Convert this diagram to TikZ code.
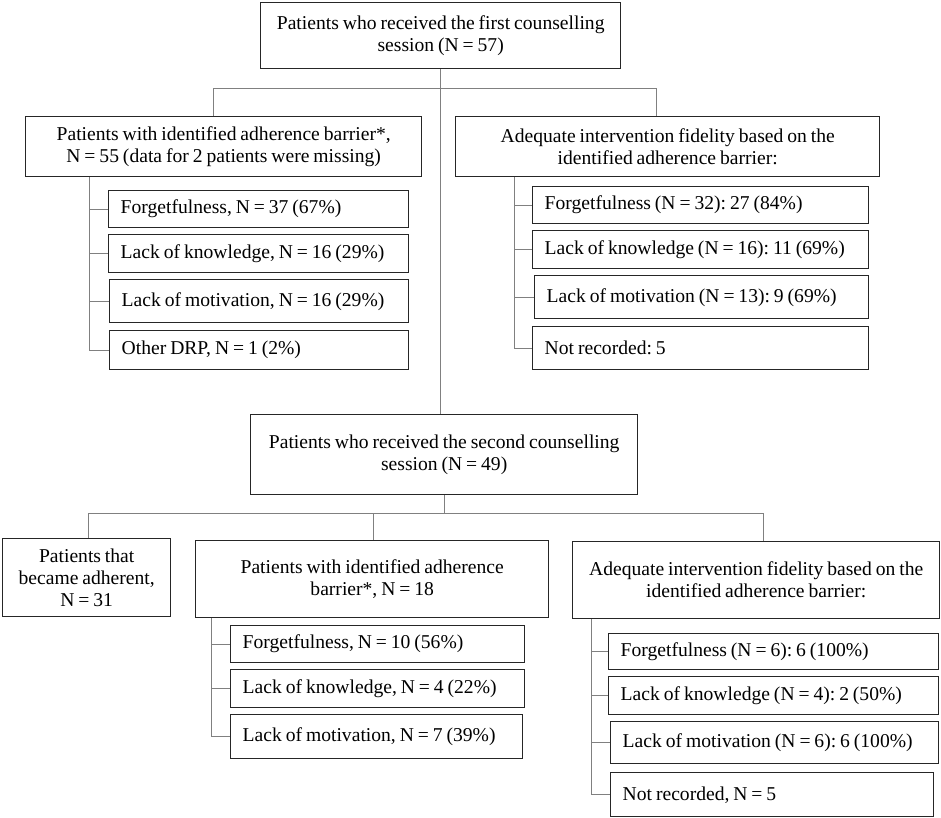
\documentclass[tikz,border=0pt]{standalone}
\usepackage{fontspec}
\setmainfont{Liberation Serif}[WordSpace=0.8]
\usepackage{tikz}
\usetikzlibrary{positioning}
\newcommand{\boxfont}{\fontsize{19.6}{22}\selectfont}
\frenchspacing

\begin{document}
\begin{tikzpicture}[x=1pt, y=-1pt,
	box/.style={draw=black!85, line width=1.4pt, rectangle, inner sep=0pt,
		anchor=north west, align=center, font=\boxfont},
	item/.style={box, align=flush left, inner xsep=12pt},
	conn/.style={draw=black!50, line width=1pt}]
	
	\useasboundingbox (0,0) rectangle (941,818);
	
	% Erste Sitzung
	\node[box, minimum width=360pt, minimum height=66pt] (first) at (260,2)
		{Patients who received the first counselling\\ session (N = 57)};
	\node[box, minimum width=396pt, minimum height=60pt] (bar1) at (25,116)
		{Patients with identified adherence barrier*,\\ N = 55 (data for 2 patients were missing)};
	\node[box, minimum width=424pt, minimum height=60pt] (fid1) at (455,116)
		{Adequate intervention fidelity based on the\\ identified adherence barrier:};
	
	% Barrieren 1
	\node[item, text width=276pt, minimum height=37pt] (fa1) at (108,190) {Forgetfulness, N = 37 (67\%)};
	\node[item, text width=276pt, minimum height=38pt] (ka1) at (108,234) {Lack of knowledge, N = 16 (29\%)};
	\node[item, text width=275pt, minimum height=43pt] (ma1) at (109,279) {Lack of motivation, N = 16 (29\%)};
	\node[item, text width=275pt, minimum height=39pt] (oa1) at (109,330) {Other DRP, N = 1 (2\%)};
	
	% Fidelity 1
	\node[item, text width=312pt, minimum height=37pt] (fb1) at (532,186) {Forgetfulness (N = 32): 27 (84\%)};
	\node[item, text width=312pt, minimum height=38pt] (kb1) at (532,230) {Lack of knowledge (N = 16): 11 (69\%)};
	\node[item, text width=310pt, minimum height=43pt] (mb1) at (534,275) {Lack of motivation (N = 13): 9 (69\%)};
	\node[item, text width=312pt, minimum height=43pt] (nb1) at (532,326) {Not recorded: 5};
	
	% Zweite Sitzung
	\node[box, minimum width=387pt, minimum height=80pt] (second) at (250,414)
		{Patients who received the second counselling\\ session (N = 49)};
	\node[box, minimum width=168pt, minimum height=78pt] (adh) at (2,538)
		{Patients that\\ became adherent,\\ N = 31};
	\node[box, minimum width=353pt, minimum height=77pt] (bar2) at (195,540)
		{Patients with identified adherence\\ barrier*, N = 18};
	\node[box, minimum width=367pt, minimum height=77pt] (fid2) at (572,541)
		{Adequate intervention fidelity based on the\\ identified adherence barrier:};
	
	% Barrieren 2
	\node[item, text width=270pt, minimum height=37pt] (fa2) at (230,625) {Forgetfulness, N = 10 (56\%)};
	\node[item, text width=270pt, minimum height=38pt] (ka2) at (230,669) {Lack of knowledge, N = 4 (22\%)};
	\node[item, text width=268pt, minimum height=44pt] (ma2) at (230,714) {Lack of motivation, N = 7 (39\%)};
	
	% Fidelity 2
	\node[item, text width=306pt, minimum height=36pt] (fb2) at (608,633) {Forgetfulness (N = 6): 6 (100\%)};
	\node[item, text width=306pt, minimum height=38pt] (kb2) at (608,676) {Lack of knowledge (N = 4): 2 (50\%)};
	\node[item, text width=304pt, minimum height=42pt] (mb2) at (610,721) {Lack of motivation (N = 6): 6 (100\%)};
	\node[item, text width=299pt, minimum height=44pt] (nb2) at (610,772) {Not recorded, N = 5};
	
	% Verbindungen oben
	\draw[conn] (first.south) -- (first.south |- second.north);
	\coordinate (k1) at (213,89);
	\coordinate (k2) at (656,89);
	\draw[conn] (k1 |- bar1.north) -- (k1) -- (k2) -- (k2 |- fid1.north);
	
	\coordinate (s1) at (89,0);
	\draw[conn] (s1 |- bar1.south) -- (s1 |- oa1.west) -- (oa1.west);
	\foreach \n in {fa1,ka1,ma1}
		\draw[conn] (s1 |- \n.west) -- (\n.west);
	
	\coordinate (s2) at (514,0);
	\draw[conn] (s2 |- fid1.south) -- (s2 |- nb1.west) -- (nb1.west);
	\foreach \n in {fb1,kb1,mb1}
		\draw[conn] (s2 |- \n.west) -- (\n.west);
	
	% Verbindungen unten
	\coordinate (k3) at (88,513);
	\coordinate (k4) at (373,513);
	\coordinate (k5) at (763,513);
	\draw[conn] (second.south) -- (second.south |- k3);
	\draw[conn] (k3 |- adh.north) -- (k3) -- (k5) -- (k5 |- fid2.north);
	\draw[conn] (k4) -- (k4 |- bar2.north);
	
	\coordinate (s3) at (211,0);
	\draw[conn] (s3 |- bar2.south) -- (s3 |- ma2.west) -- (ma2.west);
	\foreach \n in {fa2,ka2}
		\draw[conn] (s3 |- \n.west) -- (\n.west);
	
	\coordinate (s4) at (591,0);
	\draw[conn] (s4 |- fid2.south) -- (s4 |- nb2.west) -- (nb2.west);
	\foreach \n in {fb2,kb2,mb2}
		\draw[conn] (s4 |- \n.west) -- (\n.west);
\end{tikzpicture}
\end{document}
